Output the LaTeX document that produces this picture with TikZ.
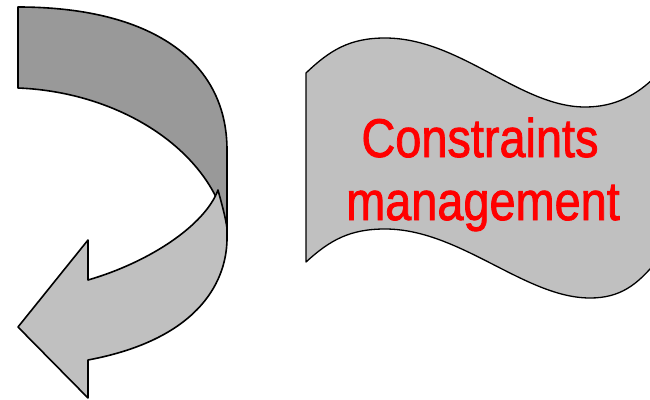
\documentclass[tikz,border=0pt]{standalone}
\usepackage{fontspec}
\setmainfont{Liberation Sans}
\newfontfamily\bannerfont[FakeBold=1.6]{Liberation Sans}
\definecolor{darkband}{HTML}{999999}
\definecolor{lightband}{HTML}{C0C0C0}
\definecolor{txtred}{HTML}{FF0000}
\begin{document}
\begin{tikzpicture}[x=1pt,y=-1pt,
  bandline/.style={draw=black,line width=1.6pt,line join=round},
  bannertext/.style={text=txtred,inner sep=0pt,anchor=base,font=\bannerfont\fontsize{54.5}{60}\selectfont}]
\useasboundingbox (0,0) rectangle (650,399);
\begin{scope}
\clip (0,0) rectangle (650,399);
% dark upper band (back side)
\path[bandline,fill=darkband] (18,7) .. controls (150,7) and (227,60) .. (227,150)
  -- (227,228) .. controls (210,150) and (120,92) .. (18,88) -- cycle;
% light lower band with arrowhead (front side)
\path[bandline,fill=lightband] (88,280) .. controls (150,262) and (205,225) .. (218,190)
  .. controls (222,205) and (225,215) .. (227,228) -- (227,240)
  .. controls (226,285) and (195,340) .. (88,360)
  -- (88,398) -- (18,327) -- (88,240) -- cycle;
% banner
\path[bandline,line width=1.3pt,fill=lightband] (306,73)
  .. controls (330,50) and (350,38) .. (385,38)
  .. controls (460,38) and (520,107) .. (585,107)
  .. controls (615,107) and (637,95) .. (656,76)
  -- (656,262)
  .. controls (637,285) and (620,298) .. (590,298)
  .. controls (525,298) and (460,229) .. (385,229)
  .. controls (350,229) and (330,240) .. (306,262) -- cycle;
\end{scope}
\node[bannertext] (l1) at (480,157) {\scalebox{0.86}[1]{Constraints}};
\node[bannertext] (l2) at (483,220) {\scalebox{0.86}[1]{management}};
\end{tikzpicture}
\end{document}
